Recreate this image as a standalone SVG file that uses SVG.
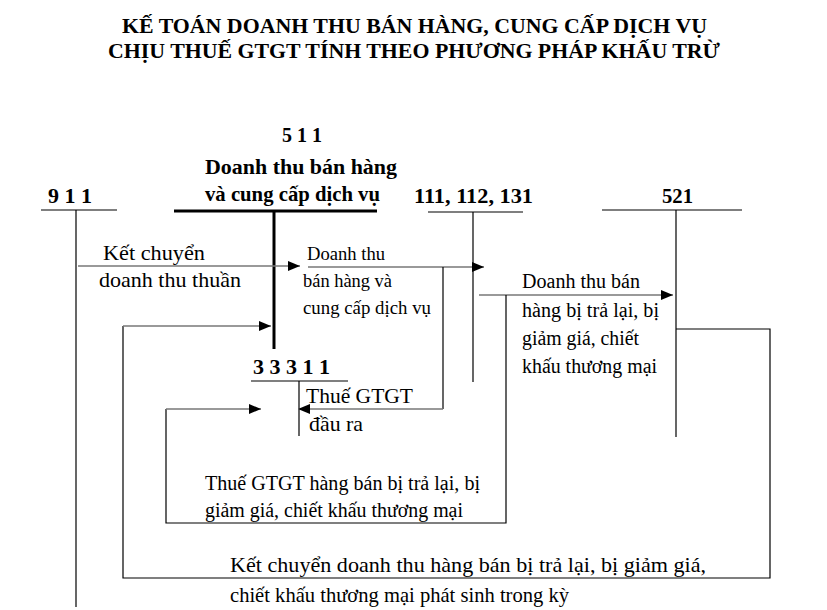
<svg xmlns="http://www.w3.org/2000/svg" width="827" height="610" viewBox="0 0 827 610">
<defs>
<marker id="ah" markerUnits="userSpaceOnUse" markerWidth="12" markerHeight="10" refX="12" refY="5" orient="auto">
<path d="M0,0 L12,5 L0,10 z" fill="#000"/>
</marker>
<style>
text{font-family:"Liberation Serif","Times New Roman",serif;fill:#000}
.t{font-size:22px;font-weight:bold}
.b{font-size:21px;font-weight:bold}
.r{font-size:21px}
.s{font-size:18.5px}
.m{font-size:20px}
.ln{stroke:#000;stroke-width:1.2;fill:none}
.thick{stroke:#000;stroke-width:3;fill:none}
.ar{stroke:#777;stroke-width:1.6;fill:none;marker-end:url(#ah)}
</style>
</defs>
<rect width="827" height="610" fill="#fff"/>
<g id="title">
<text class="t" x="122" y="33" textLength="585" lengthAdjust="spacingAndGlyphs">KẾ TOÁN DOANH THU BÁN HÀNG, CUNG CẤP DỊCH VỤ</text>
<text class="t" x="108" y="58" textLength="612" lengthAdjust="spacingAndGlyphs">CHỊU THUẾ GTGT TÍNH THEO PHƯƠNG PHÁP KHẤU TRỪ</text>
</g>
<g id="acc911">
<text class="b" x="48" y="203" textLength="44" lengthAdjust="spacingAndGlyphs">9 1 1</text>
<line class="ln" x1="41" y1="210" x2="117" y2="210"/>
<line class="ln" x1="76" y1="210" x2="76" y2="607"/>
</g>
<g id="acc511">
<text class="b" x="282" y="142" textLength="40" lengthAdjust="spacingAndGlyphs">5 1 1</text>
<text class="b" x="205" y="174" textLength="192" lengthAdjust="spacingAndGlyphs">Doanh thu bán hàng</text>
<text class="b" x="205" y="201" textLength="175" lengthAdjust="spacingAndGlyphs">và cung cấp dịch vụ</text>
<line class="thick" x1="174" y1="211" x2="377" y2="211"/>
<line class="thick" x1="274" y1="211" x2="274" y2="349"/>
</g>
<g id="acc111">
<text class="b" x="414" y="203" textLength="119" lengthAdjust="spacingAndGlyphs">111, 112, 131</text>
<line class="ln" x1="428" y1="212" x2="523" y2="212"/>
<line class="ln" x1="473" y1="212" x2="473" y2="382"/>
</g>
<g id="acc521">
<text class="b" x="662" y="203" textLength="31" lengthAdjust="spacingAndGlyphs">521</text>
<line class="ln" x1="602" y1="210" x2="742" y2="210"/>
<line class="ln" x1="676" y1="210" x2="676" y2="437"/>
</g>
<g id="acc33311">
<text class="b" x="253" y="374" textLength="77" lengthAdjust="spacingAndGlyphs">3 3 3 1 1</text>
<line class="ln" x1="251" y1="381" x2="348" y2="381"/>
<line class="ln" x1="299" y1="381" x2="299" y2="436"/>
</g>
<g id="labels">
<text class="r" x="103" y="260" textLength="102" lengthAdjust="spacingAndGlyphs">Kết chuyển</text>
<text class="r" x="99" y="287" textLength="142" lengthAdjust="spacingAndGlyphs">doanh thu thuần</text>
<text class="s" x="307" y="260" textLength="78" lengthAdjust="spacingAndGlyphs">Doanh thu</text>
<text class="s" x="303" y="287" textLength="89" lengthAdjust="spacingAndGlyphs">bán hàng và</text>
<text class="s" x="303" y="314" textLength="128" lengthAdjust="spacingAndGlyphs">cung cấp dịch vụ</text>
<text class="m" x="522" y="288" textLength="118" lengthAdjust="spacingAndGlyphs">Doanh thu bán</text>
<text class="m" x="522" y="317" textLength="137" lengthAdjust="spacingAndGlyphs">hàng bị trả lại, bị</text>
<text class="m" x="522" y="345" textLength="117" lengthAdjust="spacingAndGlyphs">giảm giá, chiết</text>
<text class="m" x="522" y="373" textLength="135" lengthAdjust="spacingAndGlyphs">khấu thương mại</text>
<text class="r" x="306" y="403" textLength="107" lengthAdjust="spacingAndGlyphs">Thuế GTGT</text>
<text class="r" x="309" y="431" textLength="54" lengthAdjust="spacingAndGlyphs">đầu ra</text>
<text class="m" x="205" y="490" textLength="275" lengthAdjust="spacingAndGlyphs">Thuế GTGT hàng bán bị trả lại, bị</text>
<text class="m" x="205" y="517" textLength="258" lengthAdjust="spacingAndGlyphs">giảm giá, chiết khấu thương mại</text>
<text class="r" x="230" y="572" textLength="476" lengthAdjust="spacingAndGlyphs">Kết chuyển doanh thu hàng bán bị trả lại, bị giảm giá,</text>
<text class="r" x="230" y="602" textLength="339" lengthAdjust="spacingAndGlyphs">chiết khấu thương mại phát sinh trong kỳ</text>
</g>
<g id="connectors">
<line class="ar" x1="78" y1="266" x2="300" y2="266"/>
<line class="ar" x1="308" y1="267" x2="484" y2="267"/>
<line class="ln" x1="443" y1="267" x2="443" y2="409"/>
<line class="ar" x1="443" y1="409" x2="298" y2="409"/>
<line class="ar" x1="479" y1="295" x2="673" y2="295"/>
<polyline class="ln" points="506,295 506,523 166,523 166,409"/>
<line class="ar" x1="166" y1="409" x2="261" y2="409"/>
<polyline class="ln" points="676,329 770,329 770,578 123,578 123,326"/>
<line class="ar" x1="123" y1="326" x2="271" y2="326"/>
</g>
</svg>
